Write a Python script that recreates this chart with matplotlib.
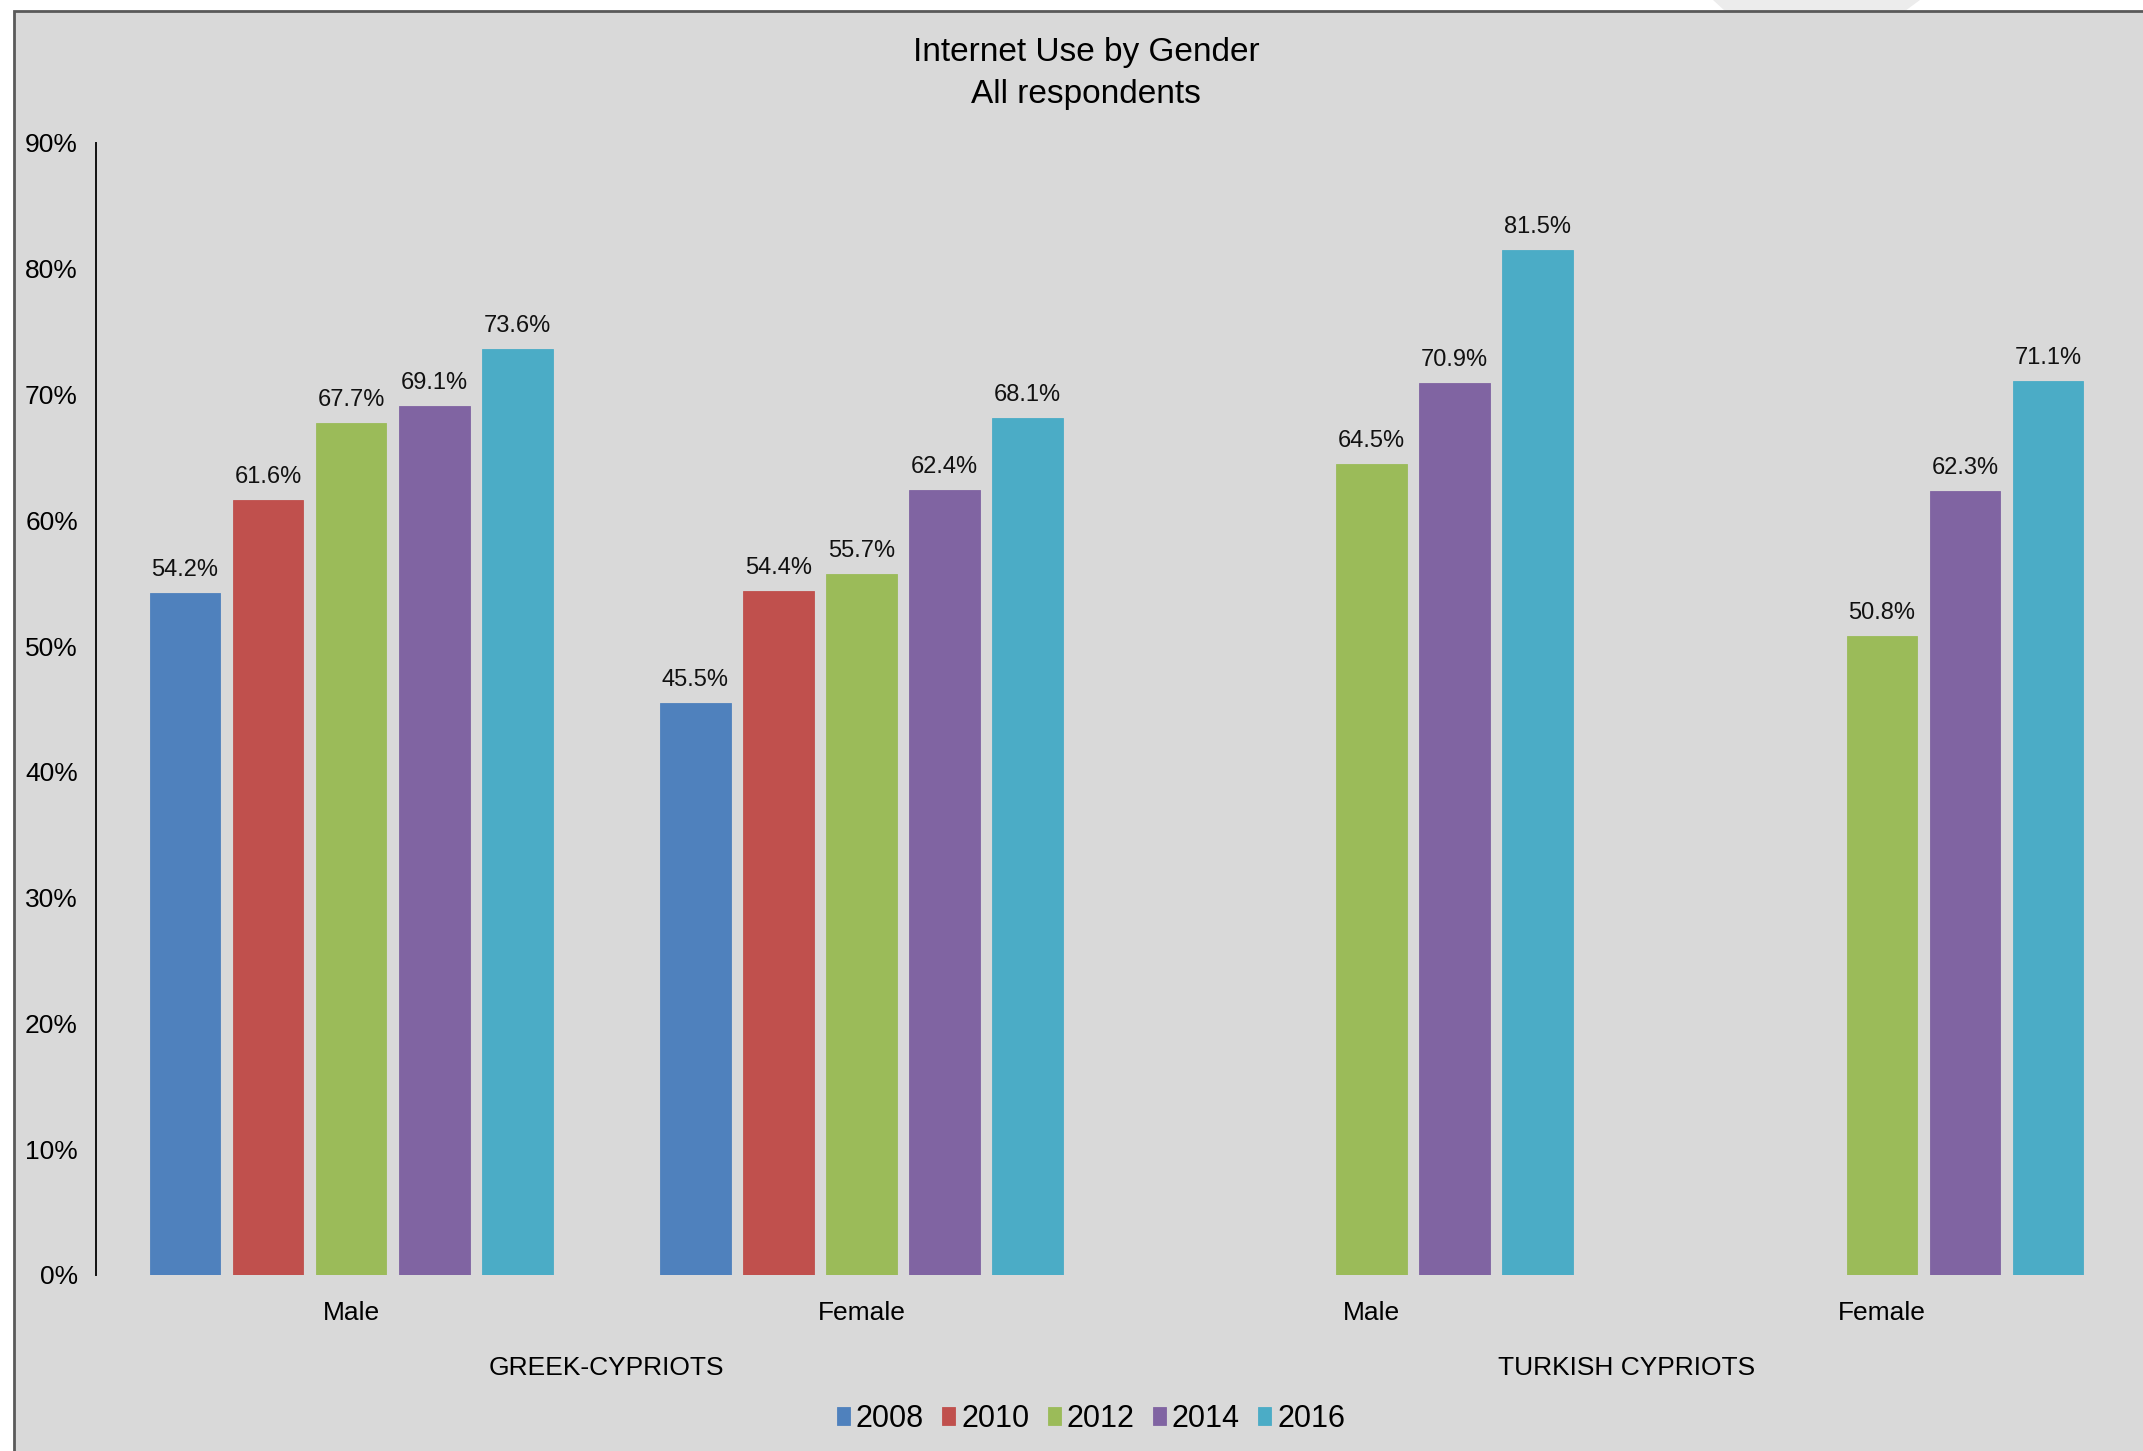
import numpy as np
import matplotlib
matplotlib.use("Agg")
import matplotlib.pyplot as plt
from matplotlib.patches import Rectangle, Polygon
from matplotlib.ticker import FuncFormatter

plt.rcParams['font.family'] = ['Liberation Sans', 'DejaVu Sans']

categories = ['Male', 'Female', 'Male', 'Female']
groups = ['GREEK-CYPRIOTS', 'TURKISH CYPRIOTS']
years = ['2008', '2010', '2012', '2014', '2016']
colors = ['#4f81bd', '#c0504d', '#9bbb59', '#8064a2', '#4bacc6']

# share of respondents per year, one entry per category (None = not surveyed)
y2008 = [54.2, 45.5, None, None]
y2010 = [61.6, 54.4, None, None]
y2012 = [67.7, 55.7, 64.5, 50.8]
y2014 = [69.1, 62.4, 70.9, 62.3]
y2016 = [73.6, 68.1, 81.5, 71.1]
series = [y2008, y2010, y2012, y2014, y2016]

W, H = 2143, 1451
fig = plt.figure(figsize=(W / 100, H / 100), dpi=100, facecolor='white')

# grey chart area with a dark border on the left and top
fig.patches.append(Polygon([[1713 / W, 1.0], [1920 / W, 1.0], [1905 / W, 1 - 11 / H], [1725 / W, 1 - 11 / H]],
                           closed=True, transform=fig.transFigure, facecolor='#ececec', edgecolor='none', zorder=0))
fig.patches.append(Rectangle((14 / W, -0.05), 1.1, 1 - 11 / H + 0.05, transform=fig.transFigure,
                             facecolor='#d9d9d9', edgecolor='#5a5a5a', linewidth=2, zorder=0))

ax = fig.add_axes([96 / W, 176 / H, (2137 - 96) / W, (1275 - 143) / H])
ax.set_facecolor('none')
ax.set_zorder(2)

pitch = 83 / 510
width = 70.7 / 510
for j, (vals, c) in enumerate(zip(series, colors)):
    xs = [i + (j - 2) * pitch for i, v in enumerate(vals) if v is not None]
    vs = [v / 100 for v in vals if v is not None]
    ax.bar(xs, vs, width=width, color=c, edgecolor=c, linewidth=0.6, label=years[j])
    for x, v in zip(xs, vs):
        ax.annotate(f'{v * 100:.1f}%', (x, v), xytext=(0, 12), textcoords='offset pixels',
                    ha='center', va='bottom', fontsize=17, color='#111111')

ax.set_xlim(-0.5, 3.5)
ax.set_ylim(0, 0.9)
ax.set_yticks(np.arange(0, 0.91, 0.1))
ax.yaxis.set_major_formatter(FuncFormatter(lambda v, p: f'{v * 100:.0f}%'))
ax.tick_params(axis='y', length=0, pad=13, labelsize=19)
ax.set_xticks(range(len(categories)))
ax.set_xticklabels(categories)
ax.tick_params(axis='x', length=0, pad=19, labelsize=19)
for s in ['top', 'right', 'bottom']:
    ax.spines[s].set_visible(False)
ax.spines['left'].set_linewidth(1.4)
ax.spines['left'].set_color('#111111')

# outer category level under each pair of genders
for k, g in enumerate(groups):
    ax.text(2 * k + 0.5, -(1368 - 1275) / (1132 / 0.9), g, ha='center', va='center', fontsize=19,
            transform=ax.transData)

fig.text(1086 / W, 1 - 52 / H, 'Internet Use by Gender', ha='center', va='center', fontsize=24)
fig.text(1086 / W, 1 - 94 / H, 'All respondents', ha='center', va='center', fontsize=24)

fig.legend(loc='center', bbox_to_anchor=(1091 / W, 1 - 1419 / H), ncol=5, frameon=False,
           fontsize=22, handlelength=0.42, handleheight=0.5, handletextpad=0.2, columnspacing=0.6)

fig.savefig('out.png', dpi=100, facecolor='white')
